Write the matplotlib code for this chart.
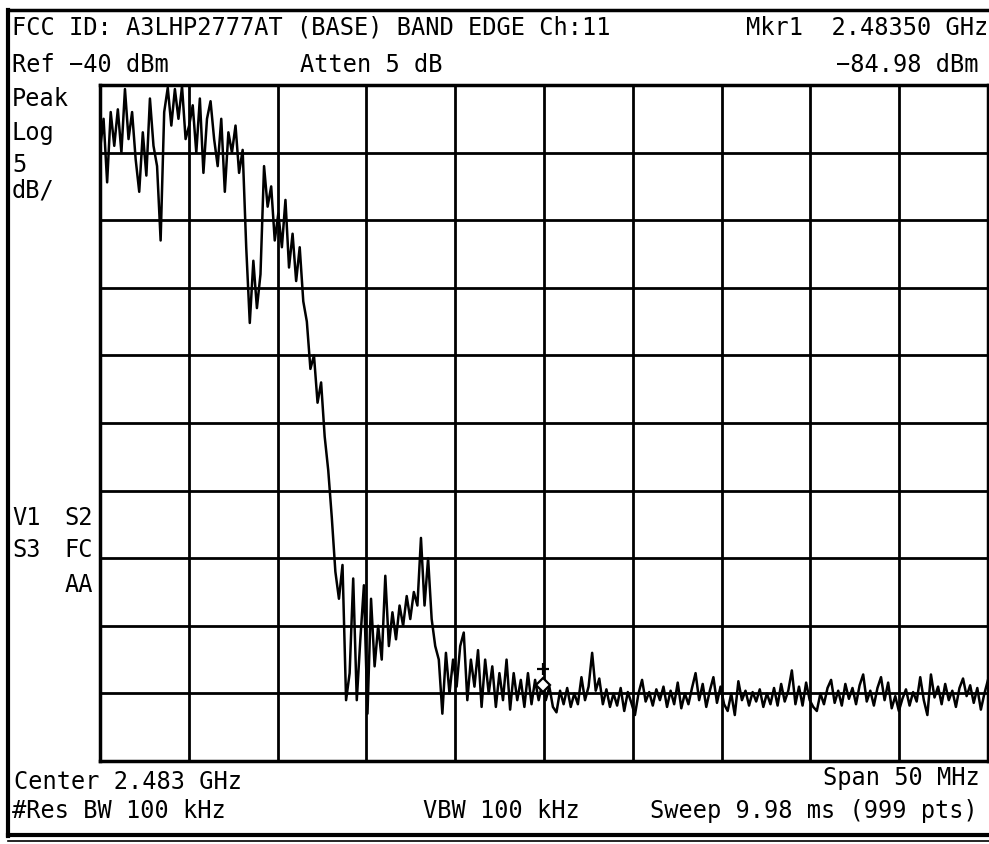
"""
Spectrum analyzer band edge plot (FCC ID A3LHP2777AT, base, Ch:11).
Trace values read off the analyzer screenshot, 25 points per division.
"""

import numpy as np
import matplotlib.pyplot as plt
from matplotlib.lines import Line2D

# analyzer settings
center_ghz = 2.483
span_mhz = 50
ref_dbm = -40
db_per_div = 5
n_div = 10

# trace, dBm, one list per horizontal division (left to right)
div0 = [-44.8, -42.5, -47.2, -42.0, -44.5, -41.8, -45.0, -40.3, -44.0, -42.0,
        -45.5, -47.9, -43.5, -46.7, -41.0, -44.5, -46.0, -51.5, -42.0, -40.2,
        -43.0, -40.3, -42.5, -40.1, -44.0]
div1 = [-43.0, -41.5, -45.0, -41.0, -46.5, -42.5, -41.2, -44.0, -46.0, -42.5,
        -47.9, -43.5, -45.0, -43.0, -46.5, -44.8, -52.0, -57.6, -53.0, -56.5,
        -54.0, -46.0, -49.0, -47.5, -51.5]
div2 = [-49.5, -52.0, -48.5, -53.5, -51.0, -54.5, -52.0, -56.0, -57.5, -61.0,
        -60.0, -63.5, -62.0, -66.0, -68.5, -72.0, -76.0, -78.0, -75.5, -85.5,
        -83.5, -76.5, -85.5, -81.0, -77.0]
div3 = [-86.5, -78.0, -83.0, -80.0, -82.5, -76.3, -81.5, -79.0, -81.0, -78.5,
        -80.0, -77.8, -79.5, -77.5, -78.5, -73.5, -78.5, -75.0, -79.5, -81.5,
        -82.5, -86.5, -82.0, -85.0, -82.5]
div4 = [-84.5, -81.5, -80.5, -85.5, -82.5, -84.5, -81.8, -86.0, -82.5, -85.0,
        -83.0, -86.0, -83.5, -85.5, -82.5, -86.2, -83.5, -85.5, -84.0, -86.0,
        -83.5, -85.8, -84.0, -85.5, -84.3]
div5 = [-85.5, -84.5, -86.0, -86.4, -84.8, -85.8, -84.6, -86.0, -85.0, -85.8,
        -83.8, -85.5, -84.5, -82.0, -84.8, -83.9, -85.8, -84.7, -86.0, -85.0,
        -85.9, -84.6, -86.3, -84.9, -85.7]
div6 = [-86.6, -85.0, -84.0, -85.6, -84.9, -85.9, -84.7, -85.5, -84.5, -86.0,
        -84.8, -85.8, -84.2, -86.1, -85.0, -85.8, -84.6, -83.5, -85.5, -84.3,
        -86.0, -84.8, -83.8, -85.7, -84.5]
div7 = [-85.8, -86.3, -85.0, -86.6, -84.1, -85.5, -84.8, -85.9, -84.9, -85.6,
        -84.7, -86.0, -85.0, -85.8, -84.6, -85.9, -84.3, -85.6, -84.8, -83.3,
        -85.8, -84.5, -85.9, -84.2, -85.5]
div8 = [-86.0, -86.3, -85.0, -85.8, -84.6, -84.0, -85.7, -84.8, -85.9, -84.3,
        -85.4, -84.6, -85.8, -84.4, -83.6, -85.6, -84.8, -85.9, -84.6, -83.8,
        -85.5, -84.2, -86.1, -85.2, -86.3]
div9 = [-85.4, -84.7, -85.9, -84.9, -85.6, -83.8, -85.5, -86.6, -83.6, -85.3,
        -84.5, -85.8, -84.3, -85.5, -84.8, -86.0, -84.6, -83.9, -85.2, -84.4,
        -85.7, -84.6, -86.2, -85.0, -84.0]

# marker 1 as drawn on screen
marker_ghz = 2.48295
marker_dbm = -84.4

W, H = 989, 844


def px(x, y):
    """Pixel position (from top-left) to figure fraction."""
    return x / W, 1 - y / H


def label(x, y, s, ha="left"):
    fx, fy = px(x, y)
    fig.text(fx, fy, s, ha=ha, va="baseline", fontsize=17,
             family="DejaVu Sans Mono", color="black")


trace = np.concatenate([div0, div1, div2, div3, div4,
                        div5, div6, div7, div8, div9])
f_start = center_ghz - span_mhz / 2000
f_stop = center_ghz + span_mhz / 2000
freq = np.linspace(f_start, f_stop, len(trace))

fig = plt.figure(figsize=(W / 100, H / 100), dpi=100)
ax = fig.add_axes([100 / W, 83 / H, 888 / W, 676 / H])

ax.plot(freq, trace, color="black", linewidth=1.8)
ax.plot([marker_ghz], [marker_dbm], marker="D", markersize=7,
        markerfacecolor="white", markeredgecolor="black", markeredgewidth=1.6)
ax.plot([marker_ghz], [marker_dbm + 1.2], marker="+", markersize=9,
        color="black", markeredgewidth=1.6)

ax.set_xlim(f_start, f_stop)
ax.set_ylim(ref_dbm - n_div * db_per_div, ref_dbm)
ax.set_xticks(np.linspace(f_start, f_stop, n_div + 1))
ax.set_yticks(np.arange(ref_dbm - n_div * db_per_div, ref_dbm + 1, db_per_div))
ax.grid(True, color="black", linewidth=2.0)
ax.tick_params(length=0, labelbottom=False, labelleft=False)
for sp in ax.spines.values():
    sp.set_linewidth(2.5)

# outer frame of the screen
frame = [((8, 8), (10, 836)), ((8, 989), (10, 10)), ((8, 989), (835, 835)),
         ((8, 989), (841, 841))]
widths = [3.0, 2.5, 3.0, 1.2]
for (xs, ys), lw in zip(frame, widths):
    fx = [x / W for x in xs]
    fy = [1 - y / H for y in ys]
    fig.add_artist(Line2D(fx, fy, color="black", linewidth=lw))

# header
label(12, 35, "FCC ID: A3LHP2777AT (BASE) BAND EDGE Ch:11")
label(988, 35, "Mkr1  2.48350 GHz", ha="right")
label(12, 72, "Ref \u221240 dBm")
label(300, 72, "Atten 5 dB")
label(978, 72, "\u221284.98 dBm", ha="right")

# left column
label(12, 106, "Peak")
label(12, 140, "Log")
label(12, 172, "5")
label(12, 198, "dB/")
label(12, 525, "V1")
label(93, 525, "S2", ha="right")
label(12, 557, "S3")
label(93, 557, "FC", ha="right")
label(93, 592, "AA", ha="right")

# footer
label(14, 789, "Center 2.483 GHz")
label(980, 785, "Span 50 MHz", ha="right")
label(12, 818, "#Res BW 100 kHz")
label(423, 818, "VBW 100 kHz")
label(978, 818, "Sweep 9.98 ms (999 pts)", ha="right")

fig.savefig("out.png", dpi=100)
